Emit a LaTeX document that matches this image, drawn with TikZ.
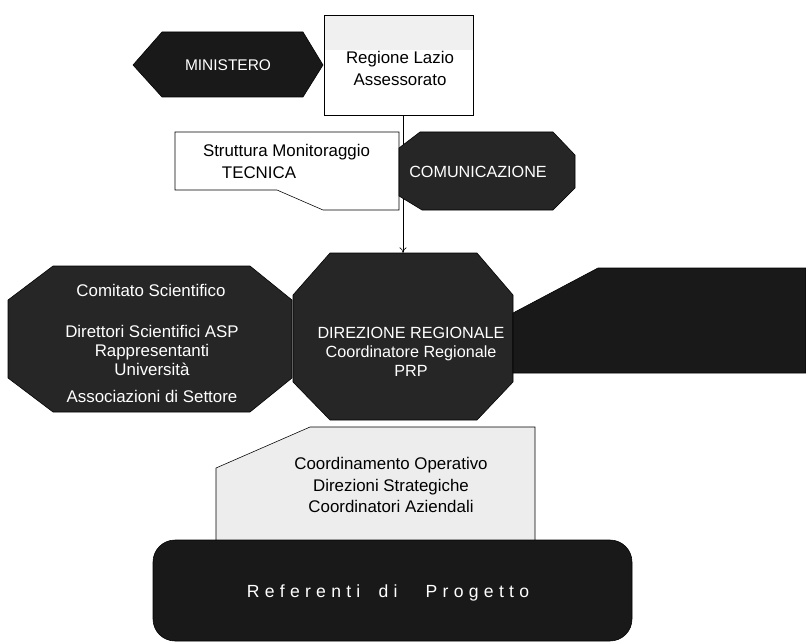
\documentclass[tikz,border=0pt]{standalone}
\usepackage{fontspec}
\setmainfont{Liberation Sans}
\newfontfamily\spacedfont[LetterSpace=30]{Liberation Sans}
\usetikzlibrary{arrows.meta}

\begin{document}
\begin{tikzpicture}
[x=0.025cm,y=-0.025cm,
 every node/.style={inner sep=0mm,outer sep=0mm,align=center,font=\fontsize{12}{13.5}\selectfont},
 dark/.style={fill=black!90,draw=black},
 grain/.style={fill=black!85,draw=black},
 light/.style={fill=white,draw=black},
 pale/.style={fill=black!7,draw=black},
 inv/.style={text=white},
 thin]

\useasboundingbox (0,0) rectangle (806,643);

% arrow Regione -> Direzione
\coordinate (DirTop) at (403,253);
\node[light,minimum width=3.725cm,minimum height=2.5cm] (Reg) at (398.5,65) {};
\draw[-{To[length=4pt,width=5pt]}] (Reg.south -| DirTop) -- (DirTop);

% top row
\draw[dark] (133,65) -- (162,32) -- (303,32) -- (323,65) -- (303,97) -- (162,97) -- cycle;
\node[inv,font=\fontsize{11}{12}\selectfont] (Min) at (228,65) {MINISTERO};

\fill[black!6] (324.5,16) rectangle (472.5,50);
\node[font=\fontsize{12}{16}\selectfont] (RegTxt) at (400,68.5) {Regione Lazio\\Assessorato};

\draw[light] (175,132) -- (399,132) -- (399,210) -- (323,210) -- (277,190) -- (175,190) -- cycle;
\node[anchor=west,align=left,font=\fontsize{12}{16}\selectfont] (Str) at (203,161.5)
  {Struttura Monitoraggio\\\hspace*{13.5pt}TECNICA};

\draw[grain] (399,148) -- (420,132) -- (553,132) -- (575,155) -- (575,188) -- (553,210) -- (422,210) -- (399,196) -- cycle;
\node[inv,font=\fontsize{11.5}{12}\selectfont] (Com) at (478,172) {COMUNICAZIONE};

% middle row
\draw[grain] (8,300) -- (53,266) -- (250,266) -- (292,300) -- (292,378) -- (250,412) -- (53,412) -- (8,378) -- cycle;
\node[inv] (ComSci) at (151,290) {Comitato Scientifico};
\node[inv] (ComList) at (152,364)
  {Direttori Scientifici ASP\\Rappresentanti\\Università\\[5.7pt]Associazioni di Settore};

\draw[grain] (293,295) -- (330,253) -- (477,253) -- (513,295) -- (513,382) -- (477,420) -- (330,420) -- (293,382) -- cycle;
\node[inv,font=\fontsize{11.5}{13.5}\selectfont] (Dir) at (411,352) {DIREZIONE REGIONALE\\Coordinatore Regionale\\PRP};

\draw[dark] (513,313) -- (598,268) -- (806,268) -- (806,373) -- (513,373) -- cycle;

% bottom
\draw[pale] (216,468) -- (310,427) -- (535,427) -- (535,560) -- (216,560) -- cycle;
\node[font=\fontsize{12}{15.6}\selectfont] (Coord) at (391,485)
  {Coordinamento Operativo\\Direzioni Strategiche\\Coordinatori Aziendali};

\draw[dark,rounded corners=0.55cm] (153,540) rectangle (632,641);
\node[inv,font=\fontsize{12.5}{14}\spacedfont] (Ref) at (388,593)
  {Referenti\hspace{13pt}di\hspace{20pt}Progetto};

\end{tikzpicture}
\end{document}
